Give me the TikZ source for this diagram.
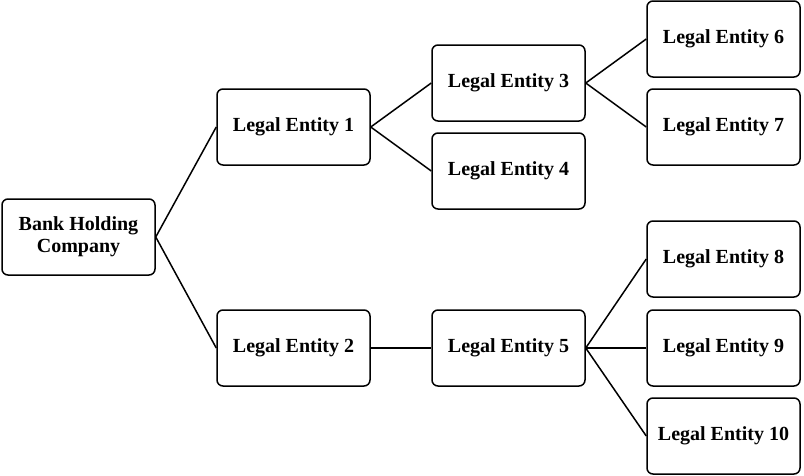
\documentclass[tikz,border=0pt]{standalone}
\usepackage{fontspec}
\setmainfont{Liberation Serif}
\begin{document}
\begin{tikzpicture}[x=1pt,y=-1pt,
  box/.style={draw,line width=1.5pt,rounded corners=6pt,minimum width=153pt,minimum height=76pt,align=center,font=\bfseries\fontsize{20}{22}\selectfont,inner sep=2pt},
  conn/.style={line width=1.5pt}]
\useasboundingbox (0,0) rectangle (804,475);
\node[box] (bhc) at (78.5,237) {Bank Holding\\Company};
\node[box] (e1) at (293.5,127) {Legal Entity 1};
\node[box] (e2) at (293.5,348) {Legal Entity 2};
\node[box] (e3) at (508.5,83) {Legal Entity 3};
\node[box] (e4) at (508.5,171) {Legal Entity 4};
\node[box] (e5) at (508.5,348) {Legal Entity 5};
\node[box] (e6) at (723.5,39) {Legal Entity 6};
\node[box] (e7) at (723.5,127) {Legal Entity 7};
\node[box] (e8) at (723.5,259) {Legal Entity 8};
\node[box] (e9) at (723.5,348) {Legal Entity 9};
\node[box] (e10) at (723.5,436) {Legal Entity 10};
\foreach \a/\b in {bhc/e1,bhc/e2,e1/e3,e1/e4,e2/e5,e3/e6,e3/e7,e5/e8,e5/e9,e5/e10}
  \draw[conn] (\a.east) -- (\b.west);
\end{tikzpicture}
\end{document}
